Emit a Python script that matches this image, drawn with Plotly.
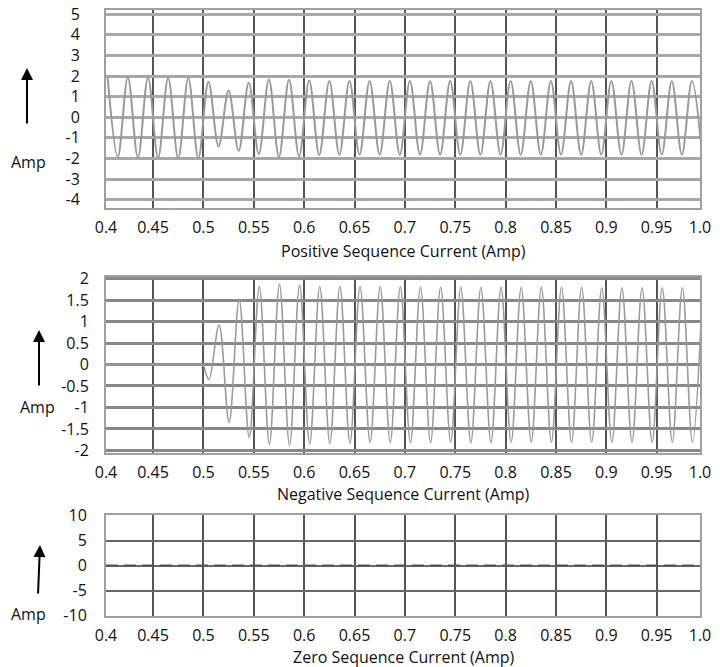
import plotly.graph_objects as go

# ---------------- data ----------------
# Positive sequence current: extreme points (peaks / troughs) of the waveform
pos_peak_t = [0.405, 0.425, 0.445, 0.465, 0.485, 0.505, 0.525, 0.545, 0.565, 0.585,
              0.605, 0.625, 0.645, 0.665, 0.685, 0.705, 0.725, 0.745, 0.765, 0.785,
              0.805, 0.825, 0.845, 0.865, 0.885, 0.905, 0.925, 0.945, 0.965, 0.985]
pos_peak_v = [1.92, 1.93, 1.93, 1.90, 1.90, 1.72, 1.30, 1.67, 1.83, 1.82,
              1.78, 1.76, 1.76, 1.76, 1.76, 1.76, 1.76, 1.76, 1.76, 1.76,
              1.76, 1.76, 1.76, 1.76, 1.76, 1.76, 1.76, 1.76, 1.76, 1.76]
pos_trough_t = [0.415, 0.435, 0.455, 0.475, 0.495, 0.515, 0.535, 0.555, 0.575, 0.595,
                0.615, 0.635, 0.655, 0.675, 0.695, 0.715, 0.735, 0.755, 0.775, 0.795,
                0.815, 0.835, 0.855, 0.875, 0.895, 0.915, 0.935, 0.955, 0.975, 0.995]
pos_trough_v = [-1.93, -1.96, -1.97, -1.98, -1.98, -1.41, -1.63, -1.79, -1.93, -1.90,
                -1.84, -1.82, -1.82, -1.82, -1.82, -1.82, -1.82, -1.82, -1.82, -1.82,
                -1.82, -1.82, -1.82, -1.82, -1.82, -1.82, -1.82, -1.82, -1.82, -1.82]

# Negative sequence current: zero before the fault ...
neg_pre_t = [0.4033, 0.500]
neg_pre_v = [0.0, 0.0]
# ... then a growing oscillation (extreme points)
neg_t = [0.500, 0.5055, 0.5155, 0.5255, 0.5355, 0.5455, 0.5555, 0.5655, 0.5755,
         0.5855, 0.5955, 0.6055, 0.6155, 0.6255, 0.6355, 0.6455, 0.6555, 0.6655, 0.6755,
         0.6855, 0.6955, 0.7055, 0.7155, 0.7255, 0.7355, 0.7455, 0.7555, 0.7655, 0.7755,
         0.7855, 0.7955, 0.8055, 0.8155, 0.8255, 0.8355, 0.8455, 0.8555, 0.8655, 0.8755,
         0.8855, 0.8955, 0.9055, 0.9155, 0.9255, 0.9355, 0.9455, 0.9555, 0.9655, 0.9755,
         0.9855, 0.9955]
neg_v = [0.0, -0.35, 0.92, -1.35, 1.52, -1.70, 1.81, -1.86, 1.87,
         -1.88, 1.85, -1.85, 1.82, -1.84, 1.82, -1.83, 1.82, -1.82, 1.81,
         -1.82, 1.81, -1.82, 1.80, -1.82, 1.80, -1.81, 1.80, -1.82, 1.80,
         -1.82, 1.80, -1.81, 1.80, -1.81, 1.80, -1.81, 1.80, -1.81, 1.80,
         -1.81, 1.79, -1.81, 1.79, -1.81, 1.79, -1.81, 1.79, -1.81, 1.79,
         -1.81, 1.79]

# Zero sequence current: flat at zero
zero_t = [0.4033, 0.993]
zero_v = [0.0, 0.0]

# Axis ticks
x_tickvals = [0.4033, 0.45, 0.5, 0.55, 0.6, 0.65, 0.7, 0.75, 0.8, 0.85, 0.9, 0.95, 0.993]
x_ticktext = ["0.4", "0.45", "0.5", "0.55", "0.6", "0.65", "0.7", "0.75", "0.8", "0.85",
              "0.9", "0.95", "1.0"]
y1_ticks = [5, 4, 3, 2, 1, 0, -1, -2, -3, -4]
y2_ticks = [2, 1.5, 1, 0.5, 0, -0.5, -1, -1.5, -2]
y2_text = ["2", "1.5", "1", "0.5", "0", "-0.5", "-1", "-1.5", "-2"]
y3_ticks = [10, 5, 0, -5, -10]

titles = ["Positive Sequence Current (Amp)",
          "Negative Sequence Current (Amp)",
          "Zero Sequence Current (Amp)"]

# ---------------- build the positive trace in time order ----------------
pos = sorted(list(zip(pos_peak_t, pos_peak_v)) + list(zip(pos_trough_t, pos_trough_v)))
pos_t = [p[0] for p in pos]
pos_v = [p[1] for p in pos]

FONT = "Open Sans"
FS = 16
H = 667.0

fig = go.Figure()
fig.add_trace(go.Scatter(x=pos_t, y=pos_v, mode="lines", xaxis="x", yaxis="y",
                         line=dict(color="#9a9a9a", width=2, shape="spline", smoothing=1.0),
                         showlegend=False, hoverinfo="skip"))
fig.add_trace(go.Scatter(x=neg_pre_t, y=neg_pre_v, mode="lines", xaxis="x2", yaxis="y2",
                         line=dict(color="#9a9a9a", width=1.6),
                         showlegend=False, hoverinfo="skip"))
fig.add_trace(go.Scatter(x=neg_t, y=neg_v, mode="lines", xaxis="x2", yaxis="y2",
                         line=dict(color="#9a9a9a", width=1.6, shape="spline", smoothing=1.0),
                         showlegend=False, hoverinfo="skip"))
fig.add_trace(go.Scatter(x=zero_t, y=zero_v, mode="lines", xaxis="x3", yaxis="y3",
                         line=dict(color="#555555", width=2, dash="12px,6px"),
                         showlegend=False, hoverinfo="skip"))

xdom = [106 / 720, 700 / 720]
doms = [[1 - 208 / H, 1 - 10 / H], [1 - 452.5 / H, 1 - 277 / H], [1 - 616 / H, 1 - 515 / H]]

def xax(anchor):
    return dict(domain=xdom, range=[0.4033, 0.993], tickmode="array",
                tickvals=x_tickvals, ticktext=x_ticktext, anchor=anchor,
                showgrid=True, gridcolor="#555555", gridwidth=1.5,
                showline=True, mirror=True, linecolor="#a0a0a0", linewidth=2,
                zeroline=False, ticks="", ticklabelstandoff=4, automargin=False,
                tickfont=dict(family=FONT, size=FS, color="#111"))

def yax(anchor, dom, rng, vals, text, gc, gw, standoff):
    return dict(domain=dom, range=rng, tickmode="array", tickvals=vals, ticktext=text,
                anchor=anchor, showgrid=True, gridcolor=gc, gridwidth=gw,
                showline=True, mirror=True, linecolor="#a0a0a0", linewidth=2,
                zeroline=False, ticks="", ticklabelstandoff=standoff, automargin=False,
                tickfont=dict(family=FONT, size=FS, color="#111"))

fig.update_layout(
    width=720, height=667, margin=dict(l=0, r=0, t=0, b=0),
    paper_bgcolor="white", plot_bgcolor="white",
    xaxis=xax("y"), xaxis2=xax("y2"), xaxis3=xax("y3"),
    yaxis=yax("x", doms[0], [-4.4, 5.2], y1_ticks, [str(v) for v in y1_ticks], "#a8a8a8", 3, 21),
    yaxis2=yax("x2", doms[1], [-2.05, 2.04], y2_ticks, y2_text, "#888888", 2.5, 12),
    yaxis3=yax("x3", doms[2], [-10.1, 10.1], y3_ticks, [str(v) for v in y3_ticks], "#666666", 1.5, 14),
)

# darker lines at +/-2 in the top panel
for yv in (2, -2):
    fig.add_shape(type="line", xref="x domain", yref="y", x0=0, x1=1, y0=yv, y1=yv,
                  line=dict(color="#333333", width=1.5), layer="below")

# x-axis titles as annotations
for txt, ypx in zip(titles, [251, 494, 657]):
    fig.add_annotation(text=txt, xref="paper", yref="paper", x=403 / 720, y=1 - ypx / H,
                       xanchor="center", yanchor="middle", showarrow=False,
                       font=dict(family=FONT, size=FS, color="#111"))

# "Amp" labels with upward arrows
for (axp, head_y, tail_dx, tail_dy, lx, ly) in [(27, 68, 0, 57, 28, 162),
                                                 (39, 330, 0, 57, 37, 407),
                                                 (40, 545, -2, 50, 28, 614)]:
    fig.add_annotation(text="", xref="paper", yref="paper", x=axp / 720, y=1 - head_y / H,
                       ax=tail_dx, ay=tail_dy, showarrow=True, arrowhead=2, arrowsize=1.2,
                       arrowwidth=2, arrowcolor="black")
    fig.add_annotation(text="Amp", xref="paper", yref="paper", x=lx / 720, y=1 - ly / H,
                       xanchor="center", yanchor="middle", showarrow=False,
                       font=dict(family=FONT, size=FS, color="#111"))

fig.write_html("out.html")
